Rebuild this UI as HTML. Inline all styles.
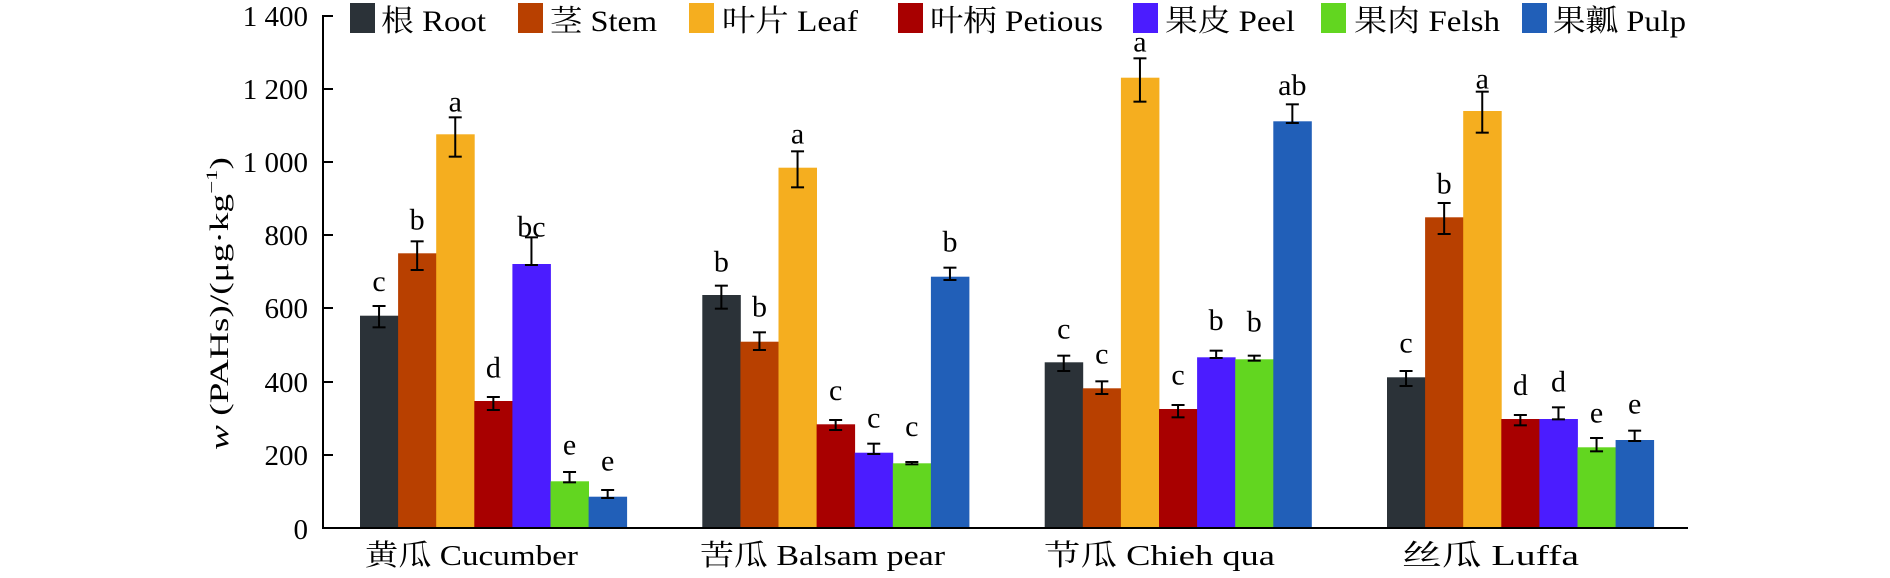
<!DOCTYPE html>
<html><head><meta charset="utf-8"><style>
html,body{margin:0;padding:0;background:#fff;}
svg{display:block;}
text{font-family:"Liberation Serif","Noto Serif CJK SC","Noto Sans CJK SC",serif;fill:#000;}
</style></head><body>
<svg width="1890" height="578" viewBox="0 0 1890 578" xmlns="http://www.w3.org/2000/svg">
<g>
<rect x="360" y="315.7" width="38.5" height="212.3" fill="#2b3238"/>
<rect x="398.1" y="253.3" width="38.5" height="274.7" fill="#b84000"/>
<rect x="436.2" y="134.3" width="38.5" height="393.7" fill="#f5ae1f"/>
<rect x="474.3" y="401" width="38.5" height="127" fill="#a80000"/>
<rect x="512.4" y="264" width="38.5" height="264" fill="#4b1cff"/>
<rect x="550.5" y="481.3" width="38.5" height="46.7" fill="#62d620"/>
<rect x="588.6" y="496.7" width="38.5" height="31.3" fill="#215fb8"/>

<rect x="702.3" y="295" width="38.5" height="233" fill="#2b3238"/>
<rect x="740.4" y="341.7" width="38.5" height="186.3" fill="#b84000"/>
<rect x="778.5" y="167.7" width="38.5" height="360.3" fill="#f5ae1f"/>
<rect x="816.6" y="424.3" width="38.5" height="103.7" fill="#a80000"/>
<rect x="854.7" y="452.7" width="38.5" height="75.3" fill="#4b1cff"/>
<rect x="892.8" y="463.3" width="38.5" height="64.7" fill="#62d620"/>
<rect x="930.9" y="276.7" width="38.5" height="251.3" fill="#215fb8"/>

<rect x="1044.7" y="362.3" width="38.5" height="165.7" fill="#2b3238"/>
<rect x="1082.8" y="388.3" width="38.5" height="139.7" fill="#b84000"/>
<rect x="1120.9" y="77.7" width="38.5" height="450.3" fill="#f5ae1f"/>
<rect x="1159" y="409" width="38.5" height="119" fill="#a80000"/>
<rect x="1197.1" y="357.3" width="38.5" height="170.7" fill="#4b1cff"/>
<rect x="1235.2" y="359.3" width="38.5" height="168.7" fill="#62d620"/>
<rect x="1273.3" y="121.3" width="38.5" height="406.7" fill="#215fb8"/>

<rect x="1387" y="377.3" width="38.5" height="150.7" fill="#2b3238"/>
<rect x="1425.1" y="217.3" width="38.5" height="310.7" fill="#b84000"/>
<rect x="1463.2" y="111" width="38.5" height="417" fill="#f5ae1f"/>
<rect x="1501.3" y="419" width="38.5" height="109" fill="#a80000"/>
<rect x="1539.4" y="419" width="38.5" height="109" fill="#4b1cff"/>
<rect x="1577.5" y="447.3" width="38.5" height="80.7" fill="#62d620"/>
<rect x="1615.6" y="440" width="38.5" height="88" fill="#215fb8"/>
</g>
<!-- axes -->
<g stroke="#000" stroke-width="2" fill="none">
<line x1="323" y1="15" x2="323" y2="529"/>
<line x1="322" y1="528" x2="1688" y2="528"/>
<line x1="323" y1="16" x2="333" y2="16"/>
<line x1="323" y1="89" x2="333" y2="89"/>
<line x1="323" y1="162" x2="333" y2="162"/>
<line x1="323" y1="235" x2="333" y2="235"/>
<line x1="323" y1="308" x2="333" y2="308"/>
<line x1="323" y1="382" x2="333" y2="382"/>
<line x1="323" y1="455" x2="333" y2="455"/>
</g>
<g font-size="29" text-anchor="end">
<text x="308" y="26">1 400</text>
<text x="308" y="99">1 200</text>
<text x="308" y="172">1 000</text>
<text x="308" y="245">800</text>
<text x="308" y="318">600</text>
<text x="308" y="392">400</text>
<text x="308" y="465">200</text>
<text x="308" y="539">0</text>
</g>
<text transform="translate(228,450) rotate(-90)" font-size="26" textLength="293" lengthAdjust="spacingAndGlyphs"><tspan font-style="italic">w</tspan> (PAHs)/(μg·kg<tspan font-size="16" dy="-11">−1</tspan><tspan dy="11">)</tspan></text>
<!-- x labels -->
<g font-size="29">
<text x="365" y="565" textLength="213" lengthAdjust="spacingAndGlyphs">黄瓜 Cucumber</text>
<text x="700" y="565" textLength="245" lengthAdjust="spacingAndGlyphs">苦瓜 Balsam pear</text>
<text x="1044" y="565" textLength="231" lengthAdjust="spacingAndGlyphs">节瓜 Chieh qua</text>
<text x="1402" y="565" textLength="177" lengthAdjust="spacingAndGlyphs">丝瓜 Luffa</text>
</g>
<!-- legend -->
<g font-size="30">
<rect x="350" y="3" width="25" height="30" fill="#2b3238"/><text x="381" y="31" textLength="105" lengthAdjust="spacingAndGlyphs">根 Root</text>
<rect x="518" y="3" width="25" height="30" fill="#b84000"/><text x="550" y="31" textLength="107" lengthAdjust="spacingAndGlyphs">茎 Stem</text>
<rect x="689" y="3" width="25" height="30" fill="#f5ae1f"/><text x="722" y="31" textLength="136" lengthAdjust="spacingAndGlyphs">叶片 Leaf</text>
<rect x="898" y="3" width="25" height="30" fill="#a80000"/><text x="930" y="31" textLength="173" lengthAdjust="spacingAndGlyphs">叶柄 Petious</text>
<rect x="1133" y="3" width="25" height="30" fill="#4b1cff"/><text x="1165" y="31" textLength="130" lengthAdjust="spacingAndGlyphs">果皮 Peel</text>
<rect x="1321" y="3" width="25" height="30" fill="#62d620"/><text x="1354" y="31" textLength="146" lengthAdjust="spacingAndGlyphs">果肉 Felsh</text>
<rect x="1522" y="3" width="25" height="30" fill="#215fb8"/><text x="1553" y="31" textLength="133" lengthAdjust="spacingAndGlyphs">果瓤 Pulp</text>
</g>
<g id="err"></g>
<g id="lab" font-size="30" text-anchor="middle"></g>
<script>
var starts=[360,702.3,1044.7,1387], w=38.1;
var d=[
[[857,828,892,783,"c"],[670,634,720,598,"b"],[313,262,380,245,"a"],[1113,1101,1140,1043,"d"],[702,622,705,620,"bc"],[1354,1326,1357,1273,"e"],[1400,1380,1404,1322,"e"]],
[[795,767,836,725,"b"],[935,907,960,860,"b"],[413,364,472,340,"a"],[1183,1170,1200,1110,"c"],[1268,1241,1272,1193,"c"],[1300,1296,1303,1218,"c"],[740,713,750,665,"b"]],
[[997,977,1023,925,"c"],[1075,1054,1092,1000,"c"],[143,85,215,65,"a"],[1137,1125,1162,1063,"c"],[982,962,984,900,"b"],[988,977,992,905,"b"],[274,223,279,195,"ab"]],
[[1042,1023,1068,968,"c"],[562,519,612,490,"b"],[243,185,308,175,"a"],[1167,1155,1186,1095,"d"],[1167,1132,1168,1085,"d"],[1252,1224,1264,1178,"e"],[1230,1202,1233,1150,"e"]]
];
var NS="http://www.w3.org/2000/svg";
var ge=document.getElementById("err"),gl=document.getElementById("lab");
function el(t,a,p){var e=document.createElementNS(NS,t);for(var k in a)e.setAttribute(k,a[k]);p.appendChild(e);return e;}
function Y(z){return 30+z/3;}
for(var g=0;g<4;g++)for(var i=0;i<7;i++){
 var v=d[g][i],x=starts[g]+i*w,cx=x+w/2;
 var a=Y(v[1]),b=Y(v[2]);
 el("line",{x1:cx,y1:a,x2:cx,y2:b,stroke:"#000","stroke-width":2},ge);
 el("line",{x1:cx-6.5,y1:a,x2:cx+6.5,y2:a,stroke:"#000","stroke-width":2},ge);
 el("line",{x1:cx-6.5,y1:b,x2:cx+6.5,y2:b,stroke:"#000","stroke-width":2},ge);
 var t=el("text",{x:cx,y:Y(v[3])},gl);t.textContent=v[4];
}
</script>
</svg>
</body></html>
